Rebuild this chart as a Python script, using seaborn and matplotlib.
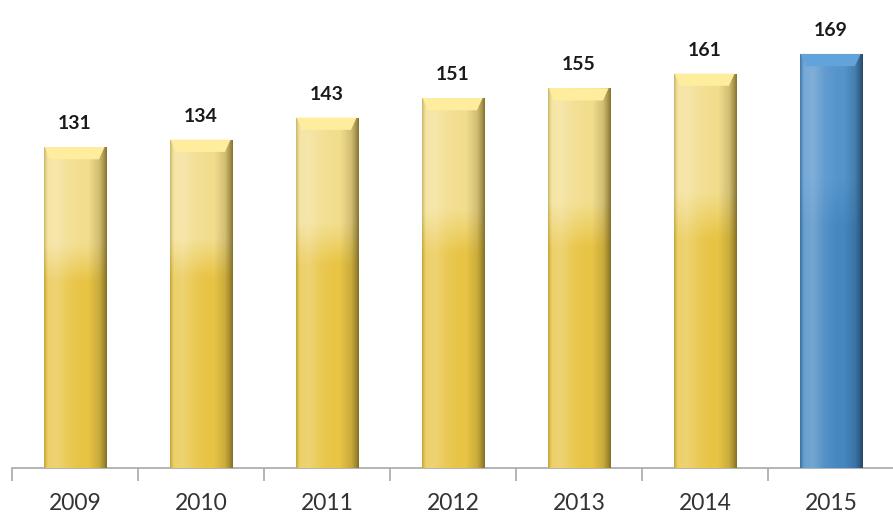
import numpy as np
import pandas as pd
import matplotlib
matplotlib.use("Agg")
import matplotlib.pyplot as plt
import seaborn as sns
from matplotlib.patches import Polygon

years = ["2009", "2010", "2011", "2012", "2013", "2014", "2015"]
values = [131, 134, 143, 151, 155, 161, 169]
highlight = ["2015"]

df = pd.DataFrame({"year": years, "value": values})
gold = "#E8CB55"
blue = "#4A8AC4"
palette = {y: (blue if y in highlight else gold) for y in years}

sns.set_theme(style="white")
plt.rcParams["font.family"] = ["Lato", "DejaVu Sans"]

fig = plt.figure(figsize=(8.93, 5.17), dpi=100)
ax = fig.add_axes([12 / 893, 49 / 517, 882 / 893, 468 / 517])
sns.barplot(data=df, x="year", y="value", hue="year", palette=palette,
            legend=False, width=0.5, ax=ax, saturation=1)
ax.set_ylim(0, 191)
ax.set_xlim(-0.5, 6.5)


def shade(patch, top_rgb, bot_rgb, dark_rgb):
    x0, y0 = patch.get_x(), patch.get_y()
    w, h = patch.get_width(), patch.get_height()
    nx, ny = 80, 200
    xs = np.linspace(0, 1, nx)
    ys = np.linspace(1, 0, ny)  # top row first
    t = np.clip((ys - 0.58) / 0.12, 0, 1)[:, None]
    base = (np.array(bot_rgb)[None, None, :] * (1 - t[..., None])
            + np.array(top_rgb)[None, None, :] * t[..., None])
    base = np.repeat(base, nx, axis=1)
    light = np.interp(xs, [0, 0.06, 0.2, 0.4, 0.6], [0.0, 0.2, 0.25, 0.08, 0.0])
    dark = np.interp(xs, [0, 0.7, 0.88, 0.96, 1.0], [0, 0, 0.25, 0.6, 0.85])
    edge = np.interp(xs, [0, 0.03, 0.06], [0.3, 0.08, 0])
    img = base.copy()
    img = img + (1 - img) * light[None, :, None]
    d = np.array(dark_rgb)[None, None, :]
    img = img * (1 - dark[None, :, None]) + d * dark[None, :, None]
    img = img * (1 - edge[None, :, None]) + d * edge[None, :, None]
    im = ax.imshow(np.clip(img, 0, 1), extent=(x0, x0 + w, y0, y0 + h),
                   aspect="auto", zorder=3, interpolation="bilinear")
    im.set_clip_path(patch)
    bh = 5.0
    bev = Polygon([(x0 + w * 0.02, y0 + h), (x0 + w * 0.97, y0 + h),
                   (x0 + w * 0.88, y0 + h - bh), (x0 + w * 0.1, y0 + h - bh)],
                  closed=True,
                  facecolor=tuple(min(1, c + 0.06) for c in top_rgb),
                  edgecolor="none", zorder=4)
    ax.add_patch(bev)


for patch, y in zip(ax.patches, years):
    if y in highlight:
        shade(patch, (0.33, 0.58, 0.80), (0.27, 0.53, 0.76), (0.12, 0.24, 0.34))
    else:
        shade(patch, (0.95, 0.87, 0.56), (0.91, 0.77, 0.27), (0.45, 0.38, 0.12))

for i, v in enumerate(values):
    ax.text(i, v + 9.5, str(v), ha="center", va="center", fontsize=14,
            fontweight="bold", color="#1a1a1a", zorder=5)

ax.set_xlabel("")
ax.set_ylabel("")
ax.set_yticks([])
for s in ["top", "right", "left"]:
    ax.spines[s].set_visible(False)
ax.spines["bottom"].set_color("#A8A8A8")
ax.spines["bottom"].set_linewidth(1.2)
ax.set_xticks(range(len(years)))
ax.set_xticklabels(years, fontsize=16.5, color="#333333")
ax.tick_params(axis="x", which="major", length=0, pad=18)
ax.set_xticks(np.arange(-0.5, 7.0, 1.0), minor=True)
ax.tick_params(axis="x", which="minor", length=9, width=1.2, color="#A8A8A8",
               direction="out", bottom=True)

fig.savefig("out.png", dpi=100)
